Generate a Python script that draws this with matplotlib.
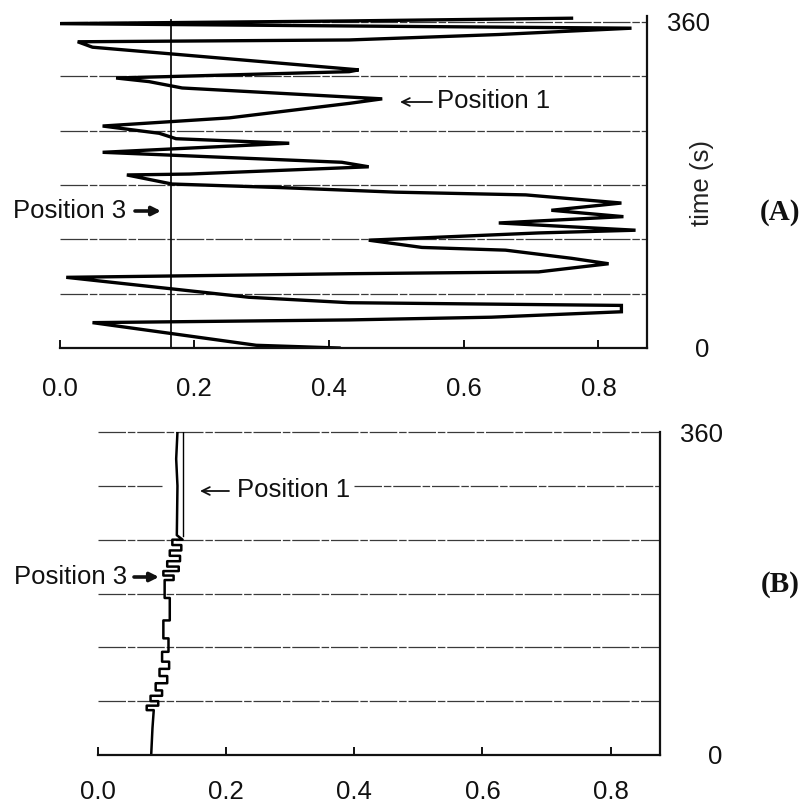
import matplotlib
matplotlib.use("Agg")
import matplotlib.pyplot as plt

W, H = 805, 808
SANS = ["Liberation Sans", "DejaVu Sans"]
SERIF = ["Liberation Serif", "DejaVu Serif"]
FS = 18.5

# ---- Panel A: lateral position (m) of the fish over time (s) ----
a_time = [0, 3, 28, 31, 34, 40, 47, 50, 56, 78, 82, 84, 93, 99, 108, 111, 119,
          127, 130, 138, 145, 152, 160, 169, 172, 177, 181, 191, 192, 200, 205,
          216, 226, 231, 237, 245, 254, 270, 275, 287, 294, 298, 305, 307, 332,
          338, 340, 346, 353, 355, 358, 361, 364]
a_pos = [0.415, 0.292, 0.049, 0.43, 0.641, 0.834, 0.834, 0.43, 0.281, 0.010,
         0.43, 0.711, 0.815, 0.76, 0.662, 0.538, 0.459, 0.711, 0.855, 0.652,
         0.837, 0.730, 0.834, 0.692, 0.499, 0.33, 0.167, 0.10, 0.193, 0.459,
         0.419, 0.064, 0.341, 0.173, 0.148, 0.064, 0.252, 0.43, 0.479, 0.182,
         0.133, 0.084, 0.43, 0.444, 0.049, 0.027, 0.43, 0.652, 0.849, 0.504,
         0.0, 0.43, 0.76]
a_position3 = 0.166

# ---- Panel B: lateral position (m) of the fish over time (s) ----
b_time = [0, 30, 50, 50, 55, 55, 60, 60, 66, 66, 72, 72, 80, 80, 88, 88, 96,
          96, 104, 104, 115, 115, 130, 130, 150, 150, 175, 175, 195, 195, 200,
          200, 205, 205, 210, 210, 216, 216, 222, 222, 228, 228, 234, 234, 240,
          240, 245, 300, 330, 360]
b_pos = [0.083, 0.085, 0.087, 0.076, 0.076, 0.094, 0.094, 0.082, 0.082, 0.100,
         0.100, 0.090, 0.090, 0.108, 0.108, 0.096, 0.096, 0.111, 0.111, 0.100,
         0.100, 0.110, 0.110, 0.102, 0.102, 0.112, 0.112, 0.104, 0.104, 0.118,
         0.118, 0.102, 0.102, 0.126, 0.126, 0.108, 0.108, 0.128, 0.128, 0.112,
         0.112, 0.130, 0.130, 0.116, 0.116, 0.132, 0.123, 0.124, 0.122, 0.124]
b_edge_time = [244, 360]
b_edge_pos = [0.132, 0.132]

grid_times = [60, 120, 180, 240, 300, 360]
x_ticks = [0.0, 0.2, 0.4, 0.6, 0.8]
x_tick_labels = ["0.0", "0.2", "0.4", "0.6", "0.8"]
y_ticks = [0, 360]
y_tick_labels = ["0", "360"]

GRID = dict(color="#3a3a3a", lw=0.9, dashes=(22, 1.5, 6, 1.5))


def fx(px):
    return px / W


def fy(py):
    return 1 - py / H


fig = plt.figure(figsize=(W / 100, H / 100), dpi=100)
fig.patch.set_facecolor("white")


def style_axes(ax, xmax, ymax, label_pad):
    ax.set_xlim(0, xmax)
    ax.set_ylim(0, ymax)
    for side in ("top", "left"):
        ax.spines[side].set_visible(False)
    for side in ("bottom", "right"):
        ax.spines[side].set_linewidth(1.6)
        ax.spines[side].set_color("#111111")
    ax.set_xticks(x_ticks)
    ax.set_xticklabels(x_tick_labels, fontsize=FS, family=SANS, color="#111111")
    ax.tick_params(axis="x", direction="in", length=6, width=1.4,
                   pad=label_pad, colors="#111111")
    ax.yaxis.tick_right()
    ax.set_yticks(y_ticks)
    ax.set_yticklabels(y_tick_labels, fontsize=FS, family=SANS, color="#111111")
    ax.tick_params(axis="y", length=0, pad=45)
    for lab in ax.get_yticklabels():
        lab.set_horizontalalignment("right")
    ax.set_facecolor("none")


# Panel A
axA = fig.add_axes([fx(59.5), fy(348), fx(647) - fx(59.5), fy(16.4) - fy(348)])
style_axes(axA, 0.872, 366, 21)
for t in grid_times:
    axA.plot([0, 0.872], [t, t], clip_on=False, **GRID)
axA.plot([a_position3, a_position3], [0, 362], color="#111111", lw=1.3)
axA.plot(a_pos, a_time, color="black", lw=2.4, solid_joinstyle="miter")

# Panel B
axB = fig.add_axes([fx(98), fy(755), fx(660) - fx(98), fy(432) - fy(755)])
style_axes(axB, 0.877, 360, 18)
for t in grid_times:
    if t == 300:
        axB.plot([0, 0.10], [t, t], **GRID)
        axB.plot([0.40, 0.877], [t, t], **GRID)
    else:
        axB.plot([0, 0.877], [t, t], clip_on=False, **GRID)
axB.plot(b_pos, b_time, color="black", lw=1.8)
axB.plot(b_edge_pos, b_edge_time, color="black", lw=1.0)

# Annotations: text plus drawn arrows
txt = dict(fontsize=FS, family=SANS, color="#111111", va="center", ha="left")


def arrow(x_tail, y_tail, x_tip, y_tip, bold=False):
    if bold:
        props = dict(arrowstyle="-|>", lw=2.6, color="#111111",
                     mutation_scale=13, shrinkA=0, shrinkB=0)
    else:
        props = dict(arrowstyle="->", lw=1.3, color="#111111",
                     mutation_scale=14, shrinkA=0, shrinkB=0)
    fig.add_artist(plt.Annotation("", xy=(fx(x_tip), fy(y_tip)),
                                  xytext=(fx(x_tail), fy(y_tail)),
                                  xycoords="figure fraction",
                                  textcoords="figure fraction",
                                  arrowprops=props))


fig.text(fx(437), fy(101), "Position 1", **txt)
arrow(432, 102, 400, 102)
fig.text(fx(13), fy(211), "Position 3", **txt)
arrow(135, 211, 161, 211, bold=True)
fig.text(fx(237), fy(490), "Position 1", **txt)
arrow(229, 491, 200, 491)
fig.text(fx(14), fy(577), "Position 3", **txt)
arrow(134, 577, 159, 577, bold=True)

fig.text(fx(702), fy(183), "time (s)", rotation=90, ha="center", va="center",
         fontsize=FS, family=SANS, color="#222222")
fig.text(fx(780), fy(212), "(A)", ha="center", va="center", fontsize=21,
         family=SERIF, fontweight="bold", color="#111111")
fig.text(fx(780), fy(585), "(B)", ha="center", va="center", fontsize=21,
         family=SERIF, fontweight="bold", color="#111111")

fig.savefig("out.png", dpi=100, facecolor="white")
